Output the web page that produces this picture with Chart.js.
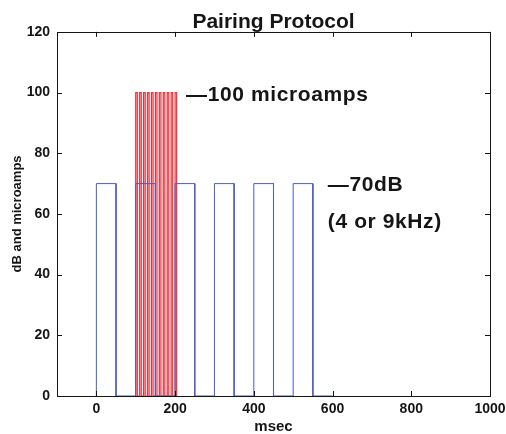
<!DOCTYPE html>
<html>
<head>
<meta charset="utf-8">
<script src="https://cdn.jsdelivr.net/npm/chart.js@4.4.0/dist/chart.umd.min.js"></script>
<style>
html,body{margin:0;padding:0;background:#fff;}
#wrap{width:506px;height:434px;position:relative;}
</style>
</head>
<body>
<div id="wrap"><canvas id="c" width="506" height="434"></canvas></div>
<script>
// ---- data ----
const xTickValues = [0, 200, 400, 600, 800, 1000];
const yTickValues = [0, 20, 40, 60, 80, 100, 120];
const toneOn  = [0, 100, 200, 300, 400, 500];      // msec
const toneOff = [50, 150, 250, 350, 450, 550];     // msec
const toneLevel = 70;                               // dB
const toneTraceEnd = 600;
const stimOn  = [100, 110, 120, 130, 140, 150, 160, 170, 180, 190, 200];
const stimOff = [104, 114, 124, 134, 144, 154, 164, 174, 184, 194, 204];
const stimLevel = 100;                              // microamps
const labelTexts = ['\u2014100 microamps', '\u201470dB', '(4 or 9kHz)'];
const labelX = [228, 588, 588];
const labelY = [99, 69.5, 57.3];

function pulseTrain(on, off, level, endX) {
  const pts = [];
  for (let i = 0; i < on.length; i++) {
    pts.push({x: on[i], y: 0}, {x: on[i], y: level}, {x: off[i], y: level}, {x: off[i], y: 0});
  }
  if (endX !== undefined) pts.push({x: endX, y: 0});
  return pts;
}

const FONT = '"Liberation Sans", Arial, Helvetica, sans-serif';
const INK = '#151515';

const framePlugin = {
  id: 'frame',
  afterDatasetsDraw(chart) {
    const {ctx, chartArea: a, scales} = chart;
    ctx.save();
    ctx.strokeStyle = INK;
    ctx.lineWidth = 1;
    ctx.strokeRect(Math.round(a.left) + 0.5, Math.round(a.top) + 0.5,
                   Math.round(a.right - a.left), Math.round(a.bottom - a.top));
    const L = 5;
    ctx.beginPath();
    xTickValues.forEach(v => {
      const px = Math.round(scales.x.getPixelForValue(v)) + 0.5;
      ctx.moveTo(px, a.bottom); ctx.lineTo(px, a.bottom - L);
      ctx.moveTo(px, a.top); ctx.lineTo(px, a.top + L);
    });
    yTickValues.forEach(v => {
      const py = Math.round(scales.y.getPixelForValue(v)) + 0.5;
      ctx.moveTo(a.left, py); ctx.lineTo(a.left + L, py);
      ctx.moveTo(a.right, py); ctx.lineTo(a.right - L, py);
    });
    ctx.stroke();
    // annotations
    ctx.fillStyle = INK;
    ctx.font = 'bold 21px ' + FONT;
    if ('letterSpacing' in ctx) ctx.letterSpacing = '0.6px';
    ctx.textAlign = 'left';
    ctx.textBaseline = 'middle';
    for (let i = 0; i < labelTexts.length; i++) {
      ctx.fillText(labelTexts[i], scales.x.getPixelForValue(labelX[i]), scales.y.getPixelForValue(labelY[i]));
    }
    ctx.restore();
  }
};

new Chart(document.getElementById('c'), {
  type: 'scatter',
  data: {
    datasets: [
      {
        label: 'tone',
        data: pulseTrain(toneOn, toneOff, toneLevel, toneTraceEnd),
        showLine: true, borderColor: '#4b5cc4', borderWidth: 1,
        pointRadius: 0, tension: 0, fill: false
      },
      {
        label: 'stim',
        data: pulseTrain(stimOn, stimOff, stimLevel),
        showLine: true, borderColor: '#e5323c', borderWidth: 1.2,
        pointRadius: 0, tension: 0, fill: false
      }
    ]
  },
  options: {
    responsive: false,
    animation: false,
    layout: {autoPadding: false, padding: {left: 0, right: 16, top: 0, bottom: 0}},
    plugins: {
      legend: {display: false},
      tooltip: {enabled: false},
      title: {
        display: true, text: 'Pairing Protocol', color: INK, fullSize: false,
        font: {family: FONT, size: 21, weight: 'bold', lineHeight: 0.9},
        padding: {top: 13, bottom: 0}
      }
    },
    scales: {
      x: {
        type: 'linear', min: -100, max: 1000,
        afterBuildTicks(s) { s.ticks = xTickValues.map(v => ({value: v})); },
        afterFit(s) { s.height = 38; },
        grid: {display: false, drawTicks: true, tickLength: 5},
        border: {display: false},
        ticks: {color: INK, padding: 0, maxRotation: 0, autoSkip: false,
                callback: v => String(v),
                font: {family: FONT, size: 14, weight: 'bold'}},
        title: {display: true, text: 'msec', color: INK,
                font: {family: FONT, size: 15, weight: 'bold', lineHeight: 1.0},
                padding: {top: 0, bottom: 0}}
      },
      y: {
        type: 'linear', min: 0, max: 120,
        afterBuildTicks(s) { s.ticks = yTickValues.map(v => ({value: v})); },
        afterFit(s) { s.width = 57; },
        grid: {display: false, drawTicks: false},
        border: {display: false},
        ticks: {color: INK, padding: 7, autoSkip: false,
                callback: v => String(v),
                font: {family: FONT, size: 14, weight: 'bold'}},
        title: {display: true, text: 'dB and microamps', color: INK,
                font: {family: FONT, size: 13, weight: 'bold', lineHeight: 1.0},
                padding: {top: 11, bottom: 0}}
      }
    }
  },
  plugins: [framePlugin]
});
</script>
</body>
</html>
